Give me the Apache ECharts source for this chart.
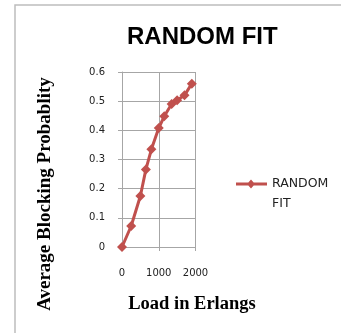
<!DOCTYPE html>
<html><head><meta charset="utf-8">
<script src="https://cdn.jsdelivr.net/npm/echarts@6/dist/echarts.min.js"></script>
<style>html,body{margin:0;padding:0;background:#fff}#c{width:341px;height:333px}</style>
</head><body><div id="c"></div>
<script>
const loadErlangs = [0, 250, 500, 650, 800, 1000, 1150, 1350, 1500, 1700, 1900];
const blockingProb = [0, 0.072, 0.175, 0.266, 0.335, 0.408, 0.448, 0.49, 0.503, 0.52, 0.56];
const seriesName = 'RANDOM FIT';
const titleText = 'RANDOM FIT';
const xAxisName = 'Load in Erlangs';
const yAxisName = 'Average Blocking Probablity';

const chart = echarts.init(document.getElementById('c'), null, {renderer: 'canvas'});
const red = '#C0504D';
const nameFont = {fontFamily: 'Liberation Serif', fontWeight: 'bold', fill: '#000'};
chart.setOption({
  animation: false,
  backgroundColor: '#fff',
  graphic: [
    {type: 'rect', shape: {x: 15, y: 5, width: 400, height: 400},
     style: {fill: 'none', stroke: '#bdbdbd', lineWidth: 1.5}, silent: true},
    {type: 'text', x: 45, y: 194, rotation: Math.PI / 2,
     style: Object.assign({text: yAxisName, fontSize: 19, align: 'center', verticalAlign: 'middle'}, nameFont)},
    {type: 'text', x: 192, y: 304,
     style: Object.assign({text: xAxisName, fontSize: 18.5, align: 'center', verticalAlign: 'middle'}, nameFont)}
  ],
  title: {
    text: titleText, left: 122, top: 20,
    textStyle: {fontFamily: 'Liberation Sans', fontWeight: 'bold', fontSize: 24, color: '#000'}
  },
  legend: {
    orient: 'vertical', left: 231, top: 149,
    itemWidth: 31, itemHeight: 10,
    formatter: () => ' \nRANDOM\nFIT',
    textStyle: {fontFamily: 'DejaVu Sans', fontSize: 12.5, color: '#222', lineHeight: 20},
    data: [{name: seriesName, icon: 'path://M0,3.6 L31,3.6 L31,6.4 L0,6.4 Z M11,5 L15,0.5 L19,5 L15,9.5 Z'}]
  },
  grid: {left: 122, right: 145.5, top: 72, bottom: 86, containLabel: false},
  xAxis: {
    type: 'value', min: 0, max: 2000, interval: 1000,
    axisLine: {show: true, lineStyle: {color: '#a6a6a6'}},
    axisTick: {show: true, length: 4, lineStyle: {color: '#a6a6a6'}},
    axisLabel: {margin: 21, fontFamily: 'DejaVu Sans', fontSize: 10, color: '#222',
      formatter: v => String(v)},
    splitLine: {show: true, lineStyle: {color: '#a6a6a6'}}
  },
  yAxis: {
    type: 'value', min: 0, max: 0.6, interval: 0.1,
    axisLine: {show: true, lineStyle: {color: '#a6a6a6'}},
    axisTick: {show: true, length: 4, lineStyle: {color: '#a6a6a6'}},
    axisLabel: {margin: 17, fontFamily: 'DejaVu Sans', fontSize: 10, color: '#222',
      formatter: v => String(Math.round(v * 10) / 10)},
    splitLine: {show: true, lineStyle: {color: '#a6a6a6'}}
  },
  series: [{
    name: seriesName, type: 'line',
    data: loadErlangs.map((x, i) => [x, blockingProb[i]]),
    symbol: 'diamond', symbolSize: 10,
    lineStyle: {color: red, width: 3},
    itemStyle: {color: red},
    clip: false
  }]
});
</script></body></html>
